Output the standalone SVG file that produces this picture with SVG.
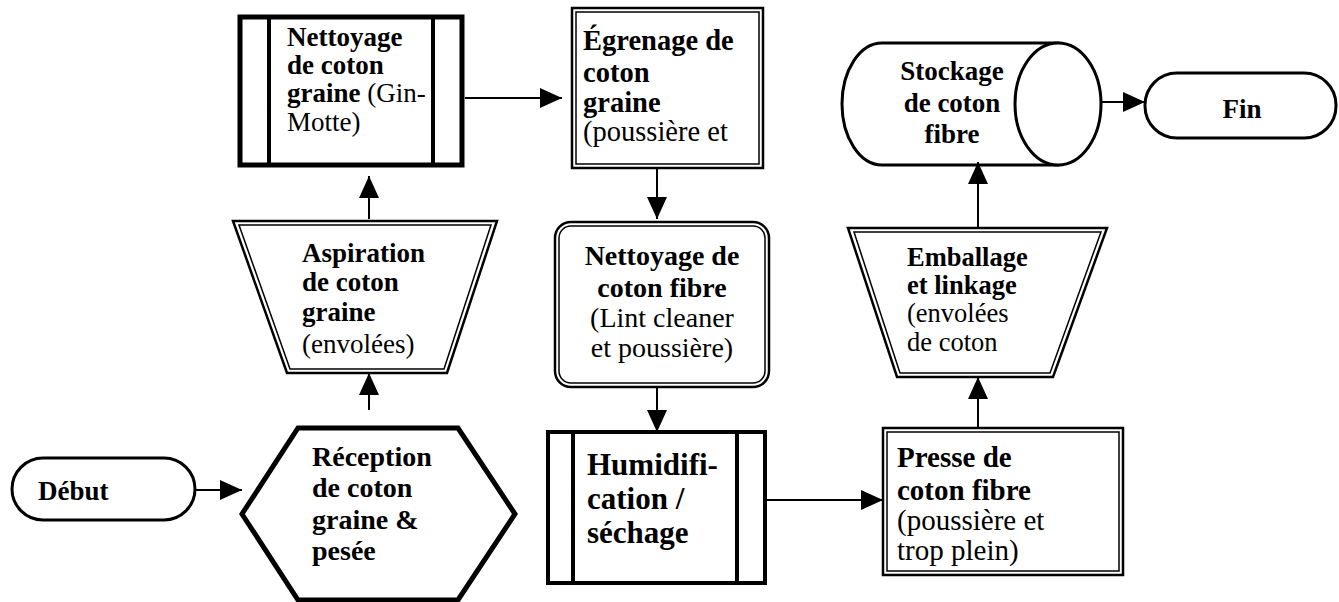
<svg xmlns="http://www.w3.org/2000/svg" width="1339" height="602" viewBox="0 0 1339 602">
<defs>
<marker id="ah" viewBox="0 0 22 20" markerWidth="22" markerHeight="20" refX="22" refY="10" orient="auto" markerUnits="userSpaceOnUse">
<path d="M0,0 L22,10 L0,20 z" fill="#000"/>
</marker>
</defs>
<style>
.t{font-family:"Liberation Serif","Times New Roman",serif;fill:#000;font-size:27px}
.b{font-weight:bold}
.c{text-anchor:middle}
.f28{font-size:28px}
.f285{font-size:28.5px}
.f29{font-size:29px}
.f31{font-size:31px}
.f265{font-size:26.5px}
.s{fill:#fff;stroke:#000}
.ln{stroke:#000;stroke-width:2;fill:none}
</style>
<rect width="1339" height="602" fill="#fff"/>

<g id="debut">
<rect class="s" x="12" y="458" width="183" height="62" rx="31" stroke-width="3"/>
<text class="t b" x="38" y="500">Début</text>
</g>

<g id="reception">
<polygon class="s" points="298,428 458,428 515,514 458,600 298,600 242,514" stroke-width="5" stroke-linejoin="miter"/>
<text class="t b f28" x="312" y="466">Réception</text>
<text class="t b f28" x="312" y="497">de coton</text>
<text class="t b f28" x="312" y="529">graine &amp;</text>
<text class="t b f28" x="312" y="560">pesée</text>
</g>

<g id="aspiration">
<polygon class="s" points="233,221 497,221 447,373 287,373" stroke-width="2.5"/>
<polygon class="s" points="239,225 491,225 444,369 290,369" stroke-width="1.5"/>
<text class="t b" x="302" y="262">Aspiration</text>
<text class="t b" x="302" y="291">de coton</text>
<text class="t b" x="302" y="321">graine</text>
<text class="t" x="302" y="353">(envolées)</text>
</g>

<g id="nettoyage-graine">
<rect class="s" x="240" y="17" width="222" height="148" stroke-width="5"/>
<line x1="269" y1="17" x2="269" y2="165" stroke="#000" stroke-width="4"/>
<line x1="433" y1="17" x2="433" y2="165" stroke="#000" stroke-width="4"/>
<text class="t b" x="287" y="46">Nettoyage</text>
<text class="t b" x="287" y="74">de coton</text>
<text class="t" x="287" y="102"><tspan font-weight="bold">graine</tspan> (Gin-</text>
<text class="t" x="287" y="131">Motte)</text>
</g>

<g id="egrenage">
<rect class="s" x="572" y="8" width="191" height="160" stroke-width="2.5"/>
<rect class="s" x="576" y="12" width="183" height="152" stroke-width="1.5"/>
<text class="t b f285" x="583" y="50">Égrenage de</text>
<text class="t b f285" x="583" y="82">coton</text>
<text class="t b f285" x="583" y="112">graine</text>
<text class="t f285" x="583" y="141">(poussière et</text>
</g>

<g id="nettoyage-fibre">
<rect class="s" x="555" y="222" width="214" height="165" rx="16" stroke-width="2.5"/>
<rect class="s" x="559" y="226" width="206" height="157" rx="12" stroke-width="1.5"/>
<text class="t b c f28" x="662" y="265">Nettoyage de</text>
<text class="t b c f28" x="662" y="297">coton fibre</text>
<text class="t c f28" x="662" y="327">(Lint cleaner</text>
<text class="t c f28" x="662" y="357">et poussière)</text>
</g>

<g id="humidification">
<rect class="s" x="548" y="432" width="217" height="151" stroke-width="4"/>
<line x1="573" y1="432" x2="573" y2="583" stroke="#000" stroke-width="4"/>
<line x1="737" y1="432" x2="737" y2="583" stroke="#000" stroke-width="4"/>
<text class="t b f31" x="587" y="475">Humidifi-</text>
<text class="t b f31" x="587" y="509">cation /</text>
<text class="t b f31" x="587" y="543">séchage</text>
</g>

<g id="presse">
<rect class="s" x="883" y="428" width="240" height="147" stroke-width="2.5"/>
<rect class="s" x="887" y="432" width="232" height="139" stroke-width="1.5"/>
<text class="t b f29" x="897" y="467">Presse de</text>
<text class="t b f29" x="897" y="500">coton fibre</text>
<text class="t f29" x="897" y="530">(poussière et</text>
<text class="t f29" x="897" y="560">trop plein)</text>
</g>

<g id="emballage">
<polygon class="s" points="848,228 1107,228 1053,377 897,377" stroke-width="2.5"/>
<polygon class="s" points="854,232 1101,232 1050,373 900,373" stroke-width="1.5"/>
<text class="t b f265" x="907" y="266">Emballage</text>
<text class="t b f265" x="907" y="294">et linkage</text>
<text class="t f265" x="907" y="322">(envolées</text>
<text class="t f265" x="907" y="351">de coton</text>
</g>

<g id="stockage">
<path class="s" d="M882,43 L1058,43 L1058,165 L882,165 A40,61 0 0 1 882,43 z" stroke-width="3"/>
<ellipse class="s" cx="1058" cy="104" rx="43" ry="61" stroke-width="3"/>
<text class="t b c" x="952" y="80">Stockage</text>
<text class="t b c" x="952" y="112">de coton</text>
<text class="t b c" x="952" y="143">fibre</text>
</g>

<g id="fin">
<rect class="s" x="1145" y="73" width="191" height="65" rx="32" stroke-width="3"/>
<text class="t b c" x="1242" y="118">Fin</text>
</g>

<g id="connectors">
<line class="ln" x1="195" y1="490" x2="242" y2="490" marker-end="url(#ah)"/>
<line class="ln" x1="369" y1="410" x2="369" y2="373" marker-end="url(#ah)"/>
<line class="ln" x1="369" y1="219" x2="369" y2="176" marker-end="url(#ah)"/>
<line class="ln" x1="465" y1="98" x2="562" y2="98" marker-end="url(#ah)"/>
<line class="ln" x1="657" y1="168" x2="657" y2="219" marker-end="url(#ah)"/>
<line class="ln" x1="657" y1="387" x2="657" y2="432" marker-end="url(#ah)"/>
<line class="ln" x1="765" y1="500" x2="883" y2="500" marker-end="url(#ah)"/>
<line class="ln" x1="978" y1="428" x2="978" y2="377" marker-end="url(#ah)"/>
<line class="ln" x1="978" y1="228" x2="978" y2="162" marker-end="url(#ah)"/>
<line class="ln" x1="1102" y1="102" x2="1145" y2="102" marker-end="url(#ah)"/>
</g>
</svg>
